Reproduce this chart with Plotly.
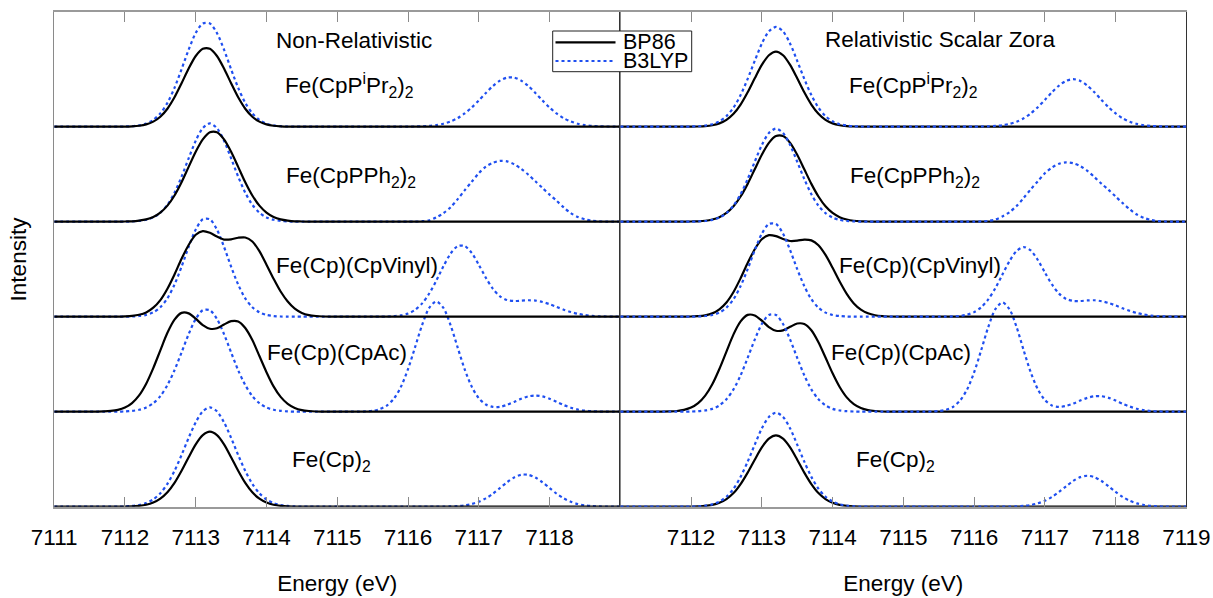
import plotly.graph_objects as go

# ---------------- data ----------------
energy = [
    7111.0, 7111.1, 7111.2, 7111.3, 7111.4, 7111.5, 7111.6, 7111.7, 7111.8, 7111.9,
    7112.0, 7112.1, 7112.2, 7112.3, 7112.4, 7112.5, 7112.6, 7112.7, 7112.8, 7112.9,
    7113.0, 7113.1, 7113.2, 7113.3, 7113.4, 7113.5, 7113.6, 7113.7, 7113.8, 7113.9,
    7114.0, 7114.1, 7114.2, 7114.3, 7114.4, 7114.5, 7114.6, 7114.7, 7114.8, 7114.9,
    7115.0, 7115.1, 7115.2, 7115.3, 7115.4, 7115.5, 7115.6, 7115.7, 7115.8, 7115.9,
    7116.0, 7116.1, 7116.2, 7116.3, 7116.4, 7116.5, 7116.6, 7116.7, 7116.8, 7116.9,
    7117.0, 7117.1, 7117.2, 7117.3, 7117.4, 7117.5, 7117.6, 7117.7, 7117.8, 7117.9,
    7118.0, 7118.1, 7118.2, 7118.3, 7118.4, 7118.5, 7118.6, 7118.7, 7118.8, 7118.9,
    7119.0,
]

compounds = [
    "Fe(Cp)<sub>2</sub>",
    "Fe(Cp)(CpAc)",
    "Fe(Cp)(CpVinyl)",
    "Fe(CpPPh<sub>2</sub>)<sub>2</sub>",
    "Fe(CpP<sup>i</sup>Pr<sub>2</sub>)<sub>2</sub>",
]
stack_offsets = [0, 1, 2, 3, 4]
panel_titles = ["Non-Relativistic", "Relativistic Scalar Zora"]
methods = ["BP86", "B3LYP"]
left_ticks = [7111, 7112, 7113, 7114, 7115, 7116, 7117, 7118]
right_ticks = [7112, 7113, 7114, 7115, 7116, 7117, 7118, 7119]

# ----- Non-relativistic panel -----
nr_bp86_cp2 = [
    0, 0, 0, 0, 0, 0, 0, 0, 0, 0,
    0.001, 0.003, 0.009, 0.020, 0.043, 0.084, 0.151, 0.250, 0.378, 0.521,
    0.657, 0.754, 0.790, 0.754, 0.657, 0.521, 0.378, 0.250, 0.151, 0.084,
    0.043, 0.020, 0.009, 0.003, 0.001, 0, 0, 0, 0, 0,
    0, 0, 0, 0, 0, 0, 0, 0, 0, 0,
    0, 0, 0, 0, 0, 0, 0, 0, 0, 0,
    0, 0, 0, 0, 0, 0, 0, 0, 0, 0,
    0, 0, 0, 0, 0, 0, 0, 0, 0, 0,
    0,
]
nr_b3lyp_cp2 = [
    0, 0, 0, 0, 0, 0, 0, 0, 0, 0,
    0.003, 0.008, 0.018, 0.038, 0.077, 0.141, 0.241, 0.377, 0.544, 0.725,
    0.888, 1.004, 1.046, 1.004, 0.888, 0.725, 0.544, 0.377, 0.241, 0.141,
    0.077, 0.038, 0.018, 0.008, 0.003, 0, 0, 0, 0, 0,
    0, 0, 0, 0, 0, 0, 0, 0, 0, 0,
    0, 0, 0, 0, 0, 0.001, 0.003, 0.006, 0.014, 0.028,
    0.052, 0.088, 0.137, 0.197, 0.257, 0.307, 0.336, 0.336, 0.307, 0.257,
    0.197, 0.137, 0.088, 0.052, 0.028, 0.014, 0.006, 0.003, 0.001, 0,
    0,
]
nr_bp86_ac = [
    0, 0, 0, 0, 0, 0, 0.001, 0.003, 0.008, 0.019,
    0.044, 0.091, 0.172, 0.295, 0.459, 0.646, 0.830, 0.969, 1.040, 1.035,
    0.979, 0.911, 0.873, 0.878, 0.918, 0.953, 0.950, 0.881, 0.754, 0.586,
    0.416, 0.267, 0.156, 0.083, 0.040, 0.017, 0.007, 0.002, 0.001, 0,
    0, 0, 0, 0, 0, 0, 0, 0, 0, 0,
    0, 0, 0, 0, 0, 0, 0, 0, 0, 0,
    0, 0, 0, 0, 0, 0, 0, 0, 0, 0,
    0, 0, 0, 0, 0, 0, 0, 0, 0, 0,
    0,
]
nr_b3lyp_ac = [
    0, 0, 0, 0, 0, 0, 0, 0, 0, 0,
    0.003, 0.009, 0.020, 0.044, 0.089, 0.164, 0.280, 0.436, 0.624, 0.816,
    0.976, 1.068, 1.068, 0.976, 0.816, 0.624, 0.436, 0.280, 0.164, 0.089,
    0.044, 0.020, 0.009, 0.003, 0, 0, 0, 0, 0, 0,
    0, 0, 0, 0, 0.003, 0.009, 0.027, 0.064, 0.137, 0.262,
    0.448, 0.679, 0.914, 1.093, 1.160, 1.093, 0.914, 0.679, 0.448, 0.264,
    0.142, 0.075, 0.050, 0.051, 0.073, 0.103, 0.136, 0.161, 0.170, 0.161,
    0.136, 0.103, 0.070, 0.042, 0.023, 0.011, 0.005, 0.002, 0, 0,
    0,
]
nr_bp86_vinyl = [
    0, 0, 0, 0, 0, 0, 0, 0, 0, 0,
    0.003, 0.008, 0.020, 0.045, 0.095, 0.175, 0.295, 0.445, 0.610, 0.755,
    0.862, 0.901, 0.883, 0.843, 0.812, 0.814, 0.831, 0.834, 0.791, 0.690,
    0.547, 0.400, 0.265, 0.160, 0.085, 0.040, 0.017, 0.007, 0.002, 0,
    0, 0, 0, 0, 0, 0, 0, 0, 0, 0,
    0, 0, 0, 0, 0, 0, 0, 0, 0, 0,
    0, 0, 0, 0, 0, 0, 0, 0, 0, 0,
    0, 0, 0, 0, 0, 0, 0, 0, 0, 0,
    0,
]
nr_b3lyp_vinyl = [
    0, 0, 0, 0, 0, 0, 0, 0, 0, 0,
    0, 0.002, 0.007, 0.019, 0.046, 0.099, 0.193, 0.338, 0.526, 0.735,
    0.917, 1.025, 1.025, 0.917, 0.735, 0.526, 0.338, 0.193, 0.099, 0.046,
    0.019, 0.007, 0.002, 0, 0, 0, 0, 0, 0, 0,
    0, 0, 0, 0, 0, 0, 0, 0.002, 0.005, 0.014,
    0.033, 0.072, 0.140, 0.244, 0.380, 0.530, 0.662, 0.742, 0.744, 0.671,
    0.547, 0.410, 0.293, 0.214, 0.175, 0.165, 0.169, 0.173, 0.170, 0.155,
    0.132, 0.103, 0.074, 0.049, 0.030, 0.017, 0.009, 0.004, 0.002, 0,
    0,
]
nr_bp86_pph2 = [
    0, 0, 0, 0, 0, 0, 0, 0, 0, 0,
    0.002, 0.004, 0.011, 0.024, 0.050, 0.096, 0.169, 0.276, 0.415, 0.577,
    0.736, 0.866, 0.941, 0.941, 0.866, 0.736, 0.577, 0.415, 0.276, 0.169,
    0.096, 0.050, 0.024, 0.011, 0.004, 0.002, 0, 0, 0, 0,
    0, 0, 0, 0, 0, 0, 0, 0, 0, 0,
    0, 0, 0, 0, 0, 0, 0, 0, 0, 0,
    0, 0, 0, 0, 0, 0, 0, 0, 0, 0,
    0, 0, 0, 0, 0, 0, 0, 0, 0, 0,
    0,
]
nr_b3lyp_pph2 = [
    0, 0, 0, 0, 0, 0, 0, 0, 0, 0,
    0, 0.003, 0.008, 0.020, 0.045, 0.095, 0.178, 0.305, 0.474, 0.667,
    0.852, 0.985, 1.035, 0.985, 0.852, 0.667, 0.474, 0.305, 0.178, 0.095,
    0.045, 0.020, 0.008, 0.003, 0, 0, 0, 0, 0, 0,
    0, 0, 0, 0, 0, 0, 0, 0, 0, 0,
    0, 0, 0.005, 0.015, 0.045, 0.090, 0.150, 0.235, 0.330, 0.420,
    0.510, 0.580, 0.620, 0.640, 0.635, 0.605, 0.555, 0.495, 0.425, 0.355,
    0.285, 0.220, 0.150, 0.090, 0.050, 0.025, 0.010, 0.004, 0, 0,
    0,
]
nr_bp86_pipr2 = [
    0, 0, 0, 0, 0, 0, 0, 0, 0, 0,
    0.001, 0.004, 0.010, 0.024, 0.053, 0.105, 0.189, 0.309, 0.457, 0.612,
    0.744, 0.820, 0.820, 0.744, 0.612, 0.457, 0.309, 0.189, 0.105, 0.053,
    0.024, 0.010, 0.004, 0.001, 0, 0, 0, 0, 0, 0,
    0, 0, 0, 0, 0, 0, 0, 0, 0, 0,
    0, 0, 0, 0, 0, 0, 0, 0, 0, 0,
    0, 0, 0, 0, 0, 0, 0, 0, 0, 0,
    0, 0, 0, 0, 0, 0, 0, 0, 0, 0,
    0,
]
nr_b3lyp_pipr2 = [
    0, 0, 0, 0, 0, 0, 0, 0, 0, 0,
    0.002, 0.005, 0.013, 0.032, 0.071, 0.140, 0.251, 0.409, 0.605, 0.811,
    0.986, 1.087, 1.087, 0.986, 0.811, 0.605, 0.409, 0.251, 0.140, 0.071,
    0.032, 0.013, 0.005, 0.002, 0, 0, 0, 0, 0, 0,
    0, 0, 0, 0, 0, 0, 0, 0, 0, 0,
    0, 0.002, 0.004, 0.008, 0.017, 0.031, 0.055, 0.089, 0.139, 0.202,
    0.276, 0.355, 0.428, 0.485, 0.516, 0.516, 0.485, 0.428, 0.355, 0.276,
    0.202, 0.139, 0.089, 0.055, 0.031, 0.017, 0.008, 0.004, 0.002, 0,
    0,
]

# ----- Relativistic scalar ZORA panel -----
zr_bp86_cp2 = [
    0, 0, 0, 0, 0, 0, 0, 0, 0, 0,
    0.001, 0.003, 0.008, 0.019, 0.041, 0.080, 0.143, 0.238, 0.359, 0.495,
    0.624, 0.716, 0.750, 0.716, 0.624, 0.495, 0.359, 0.238, 0.143, 0.080,
    0.041, 0.019, 0.008, 0.003, 0.001, 0, 0, 0, 0, 0,
    0, 0, 0, 0, 0, 0, 0, 0, 0, 0,
    0, 0, 0, 0, 0, 0, 0, 0, 0, 0,
    0, 0, 0, 0, 0, 0, 0, 0, 0, 0,
    0, 0, 0, 0, 0, 0, 0, 0, 0, 0,
    0,
]
zr_b3lyp_cp2 = [
    0, 0, 0, 0, 0, 0, 0, 0, 0, 0,
    0.001, 0.004, 0.011, 0.025, 0.053, 0.105, 0.189, 0.314, 0.474, 0.653,
    0.824, 0.945, 0.990, 0.945, 0.824, 0.653, 0.474, 0.314, 0.189, 0.105,
    0.053, 0.025, 0.011, 0.004, 0.001, 0, 0, 0, 0, 0,
    0, 0, 0, 0, 0, 0, 0, 0, 0, 0,
    0, 0, 0, 0, 0, 0.001, 0.004, 0.008, 0.018, 0.035,
    0.062, 0.103, 0.156, 0.215, 0.271, 0.311, 0.326, 0.311, 0.271, 0.215,
    0.156, 0.103, 0.062, 0.035, 0.018, 0.008, 0.004, 0.001, 0, 0,
    0,
]
zr_bp86_ac = [
    0, 0, 0, 0, 0, 0, 0.001, 0.003, 0.007, 0.019,
    0.043, 0.090, 0.169, 0.289, 0.450, 0.633, 0.814, 0.950, 1.019, 1.013,
    0.958, 0.891, 0.852, 0.856, 0.893, 0.928, 0.923, 0.857, 0.731, 0.570,
    0.404, 0.260, 0.151, 0.080, 0.039, 0.017, 0.007, 0.002, 0.001, 0,
    0, 0, 0, 0, 0, 0, 0, 0, 0, 0,
    0, 0, 0, 0, 0, 0, 0, 0, 0, 0,
    0, 0, 0, 0, 0, 0, 0, 0, 0, 0,
    0, 0, 0, 0, 0, 0, 0, 0, 0, 0,
    0,
]
zr_b3lyp_ac = [
    0, 0, 0, 0, 0, 0, 0, 0, 0, 0,
    0.002, 0.005, 0.013, 0.030, 0.066, 0.131, 0.235, 0.383, 0.567, 0.759,
    0.923, 1.018, 1.018, 0.923, 0.759, 0.567, 0.383, 0.235, 0.131, 0.066,
    0.030, 0.013, 0.005, 0.002, 0, 0, 0, 0, 0, 0,
    0, 0, 0, 0, 0.002, 0.007, 0.019, 0.050, 0.116, 0.233,
    0.414, 0.647, 0.891, 1.079, 1.150, 1.079, 0.891, 0.647, 0.415, 0.236,
    0.123, 0.066, 0.050, 0.061, 0.085, 0.117, 0.146, 0.163, 0.163, 0.146,
    0.117, 0.083, 0.054, 0.031, 0.016, 0.007, 0.003, 0.001, 0, 0,
    0,
]
zr_bp86_vinyl = [
    0, 0, 0, 0, 0, 0, 0, 0, 0, 0,
    0.002, 0.005, 0.014, 0.035, 0.078, 0.150, 0.260, 0.405, 0.565, 0.710,
    0.815, 0.858, 0.848, 0.818, 0.797, 0.800, 0.812, 0.803, 0.752, 0.650,
    0.515, 0.370, 0.240, 0.140, 0.075, 0.036, 0.015, 0.006, 0.002, 0,
    0, 0, 0, 0, 0, 0, 0, 0, 0, 0,
    0, 0, 0, 0, 0, 0, 0, 0, 0, 0,
    0, 0, 0, 0, 0, 0, 0, 0, 0, 0,
    0, 0, 0, 0, 0, 0, 0, 0, 0, 0,
    0,
]
zr_b3lyp_vinyl = [
    0, 0, 0, 0, 0, 0, 0, 0, 0, 0,
    0, 0.002, 0.007, 0.018, 0.043, 0.095, 0.184, 0.322, 0.501, 0.700,
    0.873, 0.976, 0.976, 0.873, 0.700, 0.501, 0.322, 0.184, 0.095, 0.043,
    0.018, 0.007, 0.002, 0, 0, 0, 0, 0, 0, 0,
    0, 0, 0, 0, 0, 0, 0, 0.003, 0.008, 0.021,
    0.048, 0.099, 0.182, 0.300, 0.443, 0.585, 0.692, 0.733, 0.697, 0.597,
    0.466, 0.339, 0.243, 0.187, 0.166, 0.165, 0.171, 0.173, 0.163, 0.144,
    0.118, 0.088, 0.061, 0.039, 0.023, 0.012, 0.006, 0.003, 0.001, 0,
    0,
]
zr_bp86_pph2 = [
    0, 0, 0, 0, 0, 0, 0, 0, 0, 0,
    0.002, 0.004, 0.010, 0.023, 0.048, 0.092, 0.162, 0.265, 0.398, 0.552,
    0.705, 0.830, 0.901, 0.901, 0.830, 0.705, 0.552, 0.398, 0.265, 0.162,
    0.092, 0.048, 0.023, 0.010, 0.004, 0.002, 0, 0, 0, 0,
    0, 0, 0, 0, 0, 0, 0, 0, 0, 0,
    0, 0, 0, 0, 0, 0, 0, 0, 0, 0,
    0, 0, 0, 0, 0, 0, 0, 0, 0, 0,
    0, 0, 0, 0, 0, 0, 0, 0, 0, 0,
    0,
]
zr_b3lyp_pph2 = [
    0, 0, 0, 0, 0, 0, 0, 0, 0, 0,
    0, 0.003, 0.007, 0.019, 0.043, 0.090, 0.169, 0.289, 0.449, 0.631,
    0.807, 0.933, 0.980, 0.933, 0.807, 0.631, 0.449, 0.289, 0.169, 0.090,
    0.043, 0.019, 0.007, 0.003, 0, 0, 0, 0, 0, 0,
    0, 0, 0, 0, 0, 0, 0, 0, 0, 0,
    0, 0.003, 0.008, 0.022, 0.055, 0.100, 0.165, 0.250, 0.340, 0.425,
    0.510, 0.570, 0.610, 0.625, 0.615, 0.585, 0.535, 0.470, 0.400, 0.335,
    0.265, 0.195, 0.130, 0.075, 0.040, 0.018, 0.006, 0.002, 0, 0,
    0,
]
zr_bp86_pipr2 = [
    0, 0, 0, 0, 0, 0, 0, 0, 0, 0,
    0, 0.002, 0.006, 0.015, 0.035, 0.072, 0.136, 0.233, 0.362, 0.509,
    0.650, 0.752, 0.790, 0.752, 0.650, 0.509, 0.362, 0.233, 0.136, 0.072,
    0.035, 0.015, 0.006, 0.002, 0, 0, 0, 0, 0, 0,
    0, 0, 0, 0, 0, 0, 0, 0, 0, 0,
    0, 0, 0, 0, 0, 0, 0, 0, 0, 0,
    0, 0, 0, 0, 0, 0, 0, 0, 0, 0,
    0, 0, 0, 0, 0, 0, 0, 0, 0, 0,
    0,
]
zr_b3lyp_pipr2 = [
    0, 0, 0, 0, 0, 0, 0, 0, 0, 0,
    0.002, 0.004, 0.012, 0.026, 0.057, 0.111, 0.201, 0.333, 0.503, 0.693,
    0.874, 1.003, 1.050, 1.003, 0.874, 0.693, 0.503, 0.333, 0.201, 0.111,
    0.057, 0.026, 0.012, 0.004, 0.002, 0, 0, 0, 0, 0,
    0, 0, 0, 0, 0, 0, 0, 0, 0, 0,
    0, 0.002, 0.004, 0.008, 0.015, 0.029, 0.052, 0.088, 0.139, 0.205,
    0.282, 0.362, 0.433, 0.482, 0.500, 0.482, 0.433, 0.362, 0.282, 0.205,
    0.139, 0.088, 0.052, 0.029, 0.015, 0.008, 0.004, 0.002, 0, 0,
    0,
]

nonrel_bp86 = [nr_bp86_cp2, nr_bp86_ac, nr_bp86_vinyl, nr_bp86_pph2, nr_bp86_pipr2]
nonrel_b3lyp = [nr_b3lyp_cp2, nr_b3lyp_ac, nr_b3lyp_vinyl, nr_b3lyp_pph2, nr_b3lyp_pipr2]
zora_bp86 = [zr_bp86_cp2, zr_bp86_ac, zr_bp86_vinyl, zr_bp86_pph2, zr_bp86_pipr2]
zora_b3lyp = [zr_b3lyp_cp2, zr_b3lyp_ac, zr_b3lyp_vinyl, zr_b3lyp_pph2, zr_b3lyp_pipr2]

for arr in nonrel_bp86 + nonrel_b3lyp + zora_bp86 + zora_b3lyp:
    assert len(arr) == len(energy)

# ---------------- styling ----------------
FONT = "Arial, Liberation Sans, sans-serif"
FS = 22.5
BLACK = "#000000"
BLUE = "#1f4ff0"
W, H = 1213, 598

fig = go.Figure()


def add_pair(xref, yref, bp86_list, b3lyp_list, blue_on_top):
    for k, off in enumerate(stack_offsets):
        y_b = [v + off for v in bp86_list[k]]
        y_l = [v + off for v in b3lyp_list[k]]
        tr_black = go.Scatter(
            x=energy, y=y_b, mode="lines", name=methods[0],
            line=dict(color=BLACK, width=2.2, shape="spline", smoothing=0.8),
            xaxis=xref, yaxis=yref, hoverinfo="skip", showlegend=False,
        )
        tr_blue = go.Scatter(
            x=energy, y=y_l, mode="lines", name=methods[1],
            line=dict(color=BLUE, width=2.2, dash="dot", shape="spline", smoothing=0.8),
            xaxis=xref, yaxis=yref, hoverinfo="skip", showlegend=False,
        )
        if blue_on_top:
            fig.add_trace(tr_black)
            fig.add_trace(tr_blue)
        else:
            fig.add_trace(tr_blue)
            fig.add_trace(tr_black)


add_pair("x", "y", nonrel_bp86, nonrel_b3lyp, blue_on_top=False)
add_pair("x2", "y2", zora_bp86, zora_b3lyp, blue_on_top=True)

ydom = [1 - 506.7 / H, 1 - 12.3 / H]
xdom1 = [54.2 / W, 620.3 / W]
xdom2 = [620.3 / W, 1186.4 / W]

common_x = dict(
    range=[7111, 7119], ticks="inside", ticklen=10, tickwidth=1, tickcolor="#8a8a8a",
    showline=True, linecolor="#9a9a9a", linewidth=1.5, mirror="ticks",
    showgrid=False, zeroline=False, automargin=False,
    tickfont=dict(family=FONT, size=FS, color="#000"), ticklabelstandoff=10,
    title=dict(text="Energy (eV)", font=dict(family=FONT, size=FS, color="#000"), standoff=26),
)
common_y = dict(
    range=[0, 5.204], domain=ydom, showticklabels=False, ticks="",
    showline=True, linewidth=1.2, mirror=True,
    showgrid=False, zeroline=False, automargin=False,
)

fig.update_layout(
    width=W, height=H,
    margin=dict(l=0, r=0, t=0, b=0),
    paper_bgcolor="white", plot_bgcolor="white",
    font=dict(family=FONT, size=FS, color="#000"),
    xaxis=dict(domain=xdom1, tickvals=left_ticks, anchor="y", **common_x),
    xaxis2=dict(domain=xdom2, tickvals=right_ticks, anchor="y2", **common_x),
    yaxis=dict(anchor="x", linecolor="#8a8a8a",
               title=dict(text="Intensity", font=dict(family=FONT, size=FS, color="#000"), standoff=20),
               **common_y),
    yaxis2=dict(anchor="x2", linecolor="#333333", **common_y),
    showlegend=False,
    hovermode=False,
)

# legend box (BP86 / B3LYP key)
lg_x0, lg_x1, lg_y0, lg_y1 = 552.7 / W, 691.7 / W, 1 - 71.7 / H, 1 - 31 / H
fig.add_shape(type="rect", xref="paper", yref="paper", x0=lg_x0, x1=lg_x1, y0=lg_y0, y1=lg_y1,
              line=dict(color="#222", width=1), fillcolor="white", layer="above")
key_rows = [(1 - 42.3 / H, dict(color=BLACK, width=2.2)),
            (1 - 61.0 / H, dict(color=BLUE, width=2.2, dash="dot"))]
for m, (ky, kline) in enumerate(key_rows):
    fig.add_shape(type="line", xref="paper", yref="paper", x0=555.5 / W, x1=615.5 / W, y0=ky, y1=ky,
                  line=kline, layer="above")
    fig.add_annotation(x=620.5 / W, y=ky, xref="paper", yref="paper", text=methods[m], showarrow=False,
                       xanchor="left", yanchor="middle",
                       font=dict(family=FONT, size=21.5, color="#000"))

# panel titles and compound labels
title_pos = [(7115.23, 4.91), (7115.53, 4.92)]
label_pos_left = [(7114.92, 0.48), (7115.0, 1.62), (7115.28, 2.54), (7115.19, 3.47), (7115.17, 4.43)]
label_pos_right = [(7114.89, 0.48), (7114.97, 1.62), (7115.24, 2.54), (7115.16, 3.47), (7115.15, 4.43)]
for p, (xr, yr) in enumerate([("x", "y"), ("x2", "y2")]):
    tx, ty = title_pos[p]
    fig.add_annotation(x=tx, y=ty, xref=xr, yref=yr, text=panel_titles[p], showarrow=False,
                       font=dict(family=FONT, size=FS, color="#000"), xanchor="center", yanchor="middle")
    pos = label_pos_left if p == 0 else label_pos_right
    for k, name in enumerate(compounds):
        lx, ly = pos[k]
        fig.add_annotation(x=lx, y=ly, xref=xr, yref=yr, text=name, showarrow=False,
                           font=dict(family=FONT, size=FS, color="#000"), xanchor="center", yanchor="middle")

fig.write_html("out.html", config={"displayModeBar": False})
